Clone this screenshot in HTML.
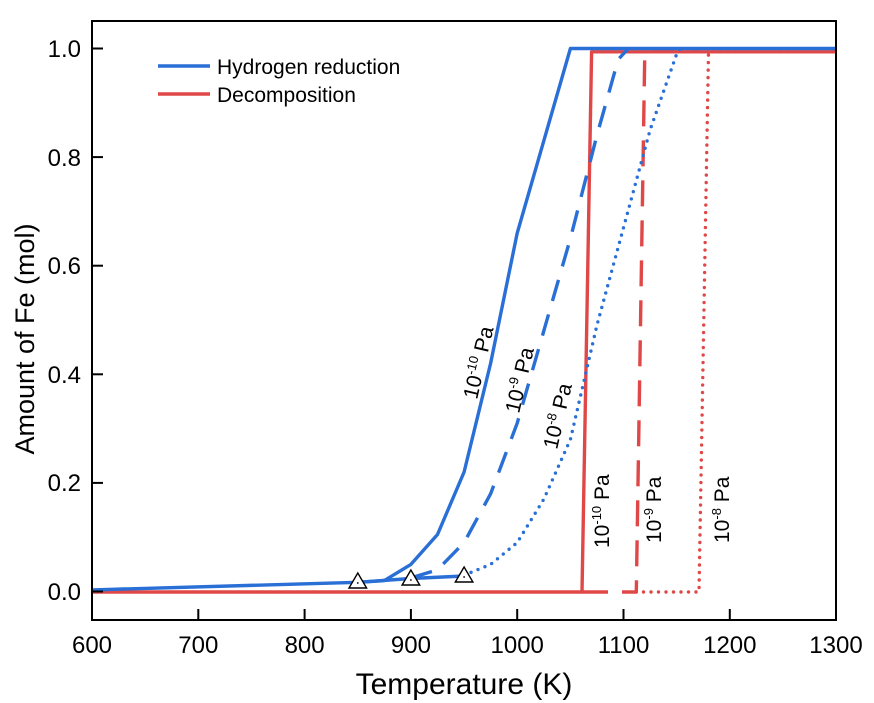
<!DOCTYPE html>
<html><head><meta charset="utf-8"><style>
html,body{margin:0;padding:0;background:#fff;}
svg{display:block;font-family:"Liberation Sans",Arial,sans-serif;}
</style></head><body>
<svg width="874" height="703" viewBox="0 0 874 703" xmlns="http://www.w3.org/2000/svg">
<g fill="none" stroke-linejoin="round">
<!-- red -->
<polyline points="92,592 582,592 591.6,51.8 836,51.8" stroke="#e04848" stroke-width="3.4"/>
<polyline points="582,592 636.3,592 644.8,51.8 700,51.8" stroke="#e04848" stroke-width="3.4" stroke-dasharray="26,14"/>
<polyline points="636,592 699,592 708.5,51.8 836,51.8" stroke="#e04848" stroke-width="3.4" stroke-dasharray="0,7.5" stroke-linecap="round"/>
<!-- blue -->
<polyline points="92,589.9 357.8,582.3 384.3,580.6 410.9,564.4 437.5,534.5 464.1,472 490.6,363.4 517.2,233.1 543.8,140.8 570.4,48.5 836,48.5" stroke="#2a6fd6" stroke-width="3.4"/>
<polyline points="357.8,582.3 410.9,578.5 464.1,576" stroke="#2a6fd6" stroke-width="3.4"/>
<polyline points="410.9,577.9 437.5,569.8 464.1,542.6 490.6,493.8 517.2,423.2 543.8,330.9 570.4,238.5 596.9,135.4 618.2,59.4 628,49" stroke="#2a6fd6" stroke-width="3.4" stroke-dasharray="22,14"/>
<polyline points="464.1,575.2 490.6,564.4 517.2,542.6 543.8,499.2 570.4,439.5 596.9,325.4 623.5,227.7 650.1,129.9 676.7,53.9 680,49" stroke="#2a6fd6" stroke-width="3.4" stroke-dasharray="0,7.5" stroke-linecap="round"/>
</g>
<!-- triangles -->
<g fill="#fff" stroke="#000" stroke-width="1.4">
<polygon points="357.8,573 349,588 366.6,588"/>
<polygon points="410.9,570 402.1,585 419.7,585"/>
<polygon points="464.1,567 455.3,582 472.9,582"/>
</g>
<g fill="#000"><circle cx="357.8" cy="583" r="0.9"/><circle cx="410.9" cy="580" r="0.9"/><circle cx="464.1" cy="577" r="0.9"/></g>
<!-- frame -->
<rect x="92" y="21" width="744" height="599" fill="none" stroke="#000" stroke-width="2"/>
<g stroke="#000" stroke-width="2">
<line x1="92" y1="591.5" x2="103" y2="591.5"/><line x1="92" y1="482.9" x2="103" y2="482.9"/>
<line x1="92" y1="374.3" x2="103" y2="374.3"/><line x1="92" y1="265.7" x2="103" y2="265.7"/>
<line x1="92" y1="157.1" x2="103" y2="157.1"/><line x1="92" y1="48.5" x2="103" y2="48.5"/>
<line x1="198.3" y1="620" x2="198.3" y2="609"/><line x1="304.6" y1="620" x2="304.6" y2="609"/>
<line x1="410.9" y1="620" x2="410.9" y2="609"/><line x1="517.2" y1="620" x2="517.2" y2="609"/>
<line x1="623.5" y1="620" x2="623.5" y2="609"/><line x1="729.8" y1="620" x2="729.8" y2="609"/>
</g>
<g font-size="24" fill="#000" text-anchor="end">
<text x="81" y="600">0.0</text><text x="81" y="491">0.2</text><text x="81" y="383">0.4</text>
<text x="81" y="274">0.6</text><text x="81" y="166">0.8</text><text x="81" y="57">1.0</text>
</g>
<g font-size="24" fill="#000" text-anchor="middle">
<text x="92" y="653">600</text><text x="198.3" y="653">700</text><text x="304.6" y="653">800</text>
<text x="410.9" y="653">900</text><text x="517.2" y="653">1000</text><text x="623.5" y="653">1100</text>
<text x="729.8" y="653">1200</text><text x="836" y="653">1300</text>
</g>
<text x="464" y="694" font-size="30" text-anchor="middle">Temperature (K)</text>
<text transform="translate(34,339) rotate(-90)" font-size="27" text-anchor="middle">Amount of Fe (mol)</text>
<!-- legend -->
<line x1="158" y1="66" x2="210" y2="66" stroke="#2a6fd6" stroke-width="3.4"/>
<line x1="158" y1="94" x2="210" y2="94" stroke="#e04848" stroke-width="3.4"/>
<text x="217" y="74" font-size="21">Hydrogen reduction</text>
<text x="217" y="102" font-size="21">Decomposition</text>
<!-- curve labels -->
<g font-size="21" fill="#000">
<text transform="translate(477,400) rotate(-77)">10<tspan dy="-8" font-size="13">-10</tspan><tspan dy="8"> Pa</tspan></text>
<text transform="translate(519,414) rotate(-77)">10<tspan dy="-8" font-size="13">-9</tspan><tspan dy="8"> Pa</tspan></text>
<text transform="translate(557,450) rotate(-77)">10<tspan dy="-8" font-size="13">-8</tspan><tspan dy="8"> Pa</tspan></text>
<text transform="translate(609,548) rotate(-90)">10<tspan dy="-8" font-size="13">-10</tspan><tspan dy="8"> Pa</tspan></text>
<text transform="translate(661,543) rotate(-90)">10<tspan dy="-8" font-size="13">-9</tspan><tspan dy="8"> Pa</tspan></text>
<text transform="translate(729,543) rotate(-90)">10<tspan dy="-8" font-size="13">-8</tspan><tspan dy="8"> Pa</tspan></text>
</g>
</svg>
</body></html>
